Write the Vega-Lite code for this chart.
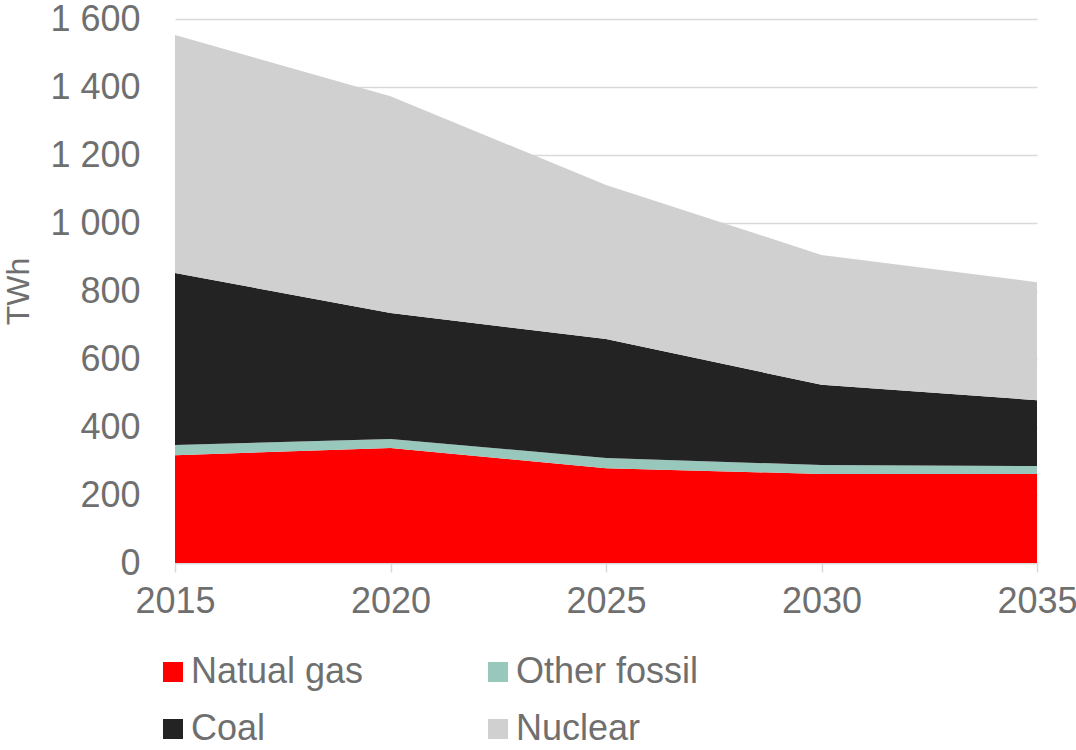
{
  "$schema": "https://vega.github.io/schema/vega-lite/v6.json",
  "width": 862,
  "height": 544,
  "autosize": {"type": "none"},
  "padding": {"left": 175, "top": 19, "right": 39, "bottom": 187},
  "config": {
    "font": "Liberation Sans",
    "view": {"stroke": null},
    "axis": {"labelFont": "Liberation Sans", "titleFont": "Liberation Sans"}
  },
  "data": {
    "values": [
      {"year": 2015, "source": "Natual gas", "ord": 1, "twh": 317},
      {"year": 2015, "source": "Other fossil", "ord": 2, "twh": 30},
      {"year": 2015, "source": "Coal", "ord": 3, "twh": 506},
      {"year": 2015, "source": "Nuclear", "ord": 4, "twh": 700},
      {"year": 2020, "source": "Natual gas", "ord": 1, "twh": 338},
      {"year": 2020, "source": "Other fossil", "ord": 2, "twh": 27},
      {"year": 2020, "source": "Coal", "ord": 3, "twh": 370},
      {"year": 2020, "source": "Nuclear", "ord": 4, "twh": 638},
      {"year": 2025, "source": "Natual gas", "ord": 1, "twh": 279},
      {"year": 2025, "source": "Other fossil", "ord": 2, "twh": 30},
      {"year": 2025, "source": "Coal", "ord": 3, "twh": 350},
      {"year": 2025, "source": "Nuclear", "ord": 4, "twh": 453},
      {"year": 2030, "source": "Natual gas", "ord": 1, "twh": 262},
      {"year": 2030, "source": "Other fossil", "ord": 2, "twh": 26},
      {"year": 2030, "source": "Coal", "ord": 3, "twh": 236},
      {"year": 2030, "source": "Nuclear", "ord": 4, "twh": 382},
      {"year": 2035, "source": "Natual gas", "ord": 1, "twh": 262},
      {"year": 2035, "source": "Other fossil", "ord": 2, "twh": 23},
      {"year": 2035, "source": "Coal", "ord": 3, "twh": 194},
      {"year": 2035, "source": "Nuclear", "ord": 4, "twh": 347}
    ]
  },
  "mark": {"type": "area", "opacity": 1},
  "encoding": {
    "x": {
      "field": "year",
      "type": "quantitative",
      "scale": {"domain": [2015, 2035], "nice": false, "zero": false},
      "axis": {
        "values": [2015, 2020, 2025, 2030, 2035],
        "format": "d",
        "title": null,
        "grid": false,
        "domainColor": "#d9d9d9",
        "domainWidth": 1.5,
        "tickColor": "#d9d9d9",
        "tickSize": 9,
        "tickWidth": 1.5,
        "labelFontSize": 36,
        "labelColor": "#6f6f6f",
        "labelPadding": 12,
        "labelFlush": false,
        "labelOverlap": false
      }
    },
    "y": {
      "field": "twh",
      "type": "quantitative",
      "stack": "zero",
      "scale": {"domain": [0, 1600], "nice": false},
      "axis": {
        "values": [0, 200, 400, 600, 800, 1000, 1200, 1400, 1600],
        "labelExpr": "replace(format(datum.value, ','), ',', ' ')",
        "title": "TWh",
        "titleFontSize": 32,
        "titleFontWeight": "normal",
        "titleColor": "#6f6f6f",
        "titlePadding": 14,
        "domain": false,
        "ticks": false,
        "gridColor": "#d9d9d9",
        "gridWidth": 1.5,
        "labelFontSize": 36,
        "labelColor": "#6f6f6f",
        "labelPadding": 35
      }
    },
    "color": {
      "field": "source",
      "type": "nominal",
      "scale": {
        "domain": ["Natual gas", "Other fossil", "Coal", "Nuclear"],
        "range": ["#ff0000", "#98c7bb", "#232323", "#d0d0d0"]
      },
      "legend": {
        "orient": "none",
        "legendX": -20,
        "legendY": 635,
        "direction": "horizontal",
        "columns": 2,
        "title": null,
        "symbolType": "square",
        "symbolSize": 400,
        "symbolOpacity": 1,
        "symbolStrokeWidth": 0,
        "labelFontSize": 36,
        "labelColor": "#6f6f6f",
        "labelOffset": 0,
        "labelLimit": 400,
        "columnPadding": 116,
        "rowPadding": 21
      }
    },
    "order": {"field": "ord", "type": "quantitative"}
  }
}
